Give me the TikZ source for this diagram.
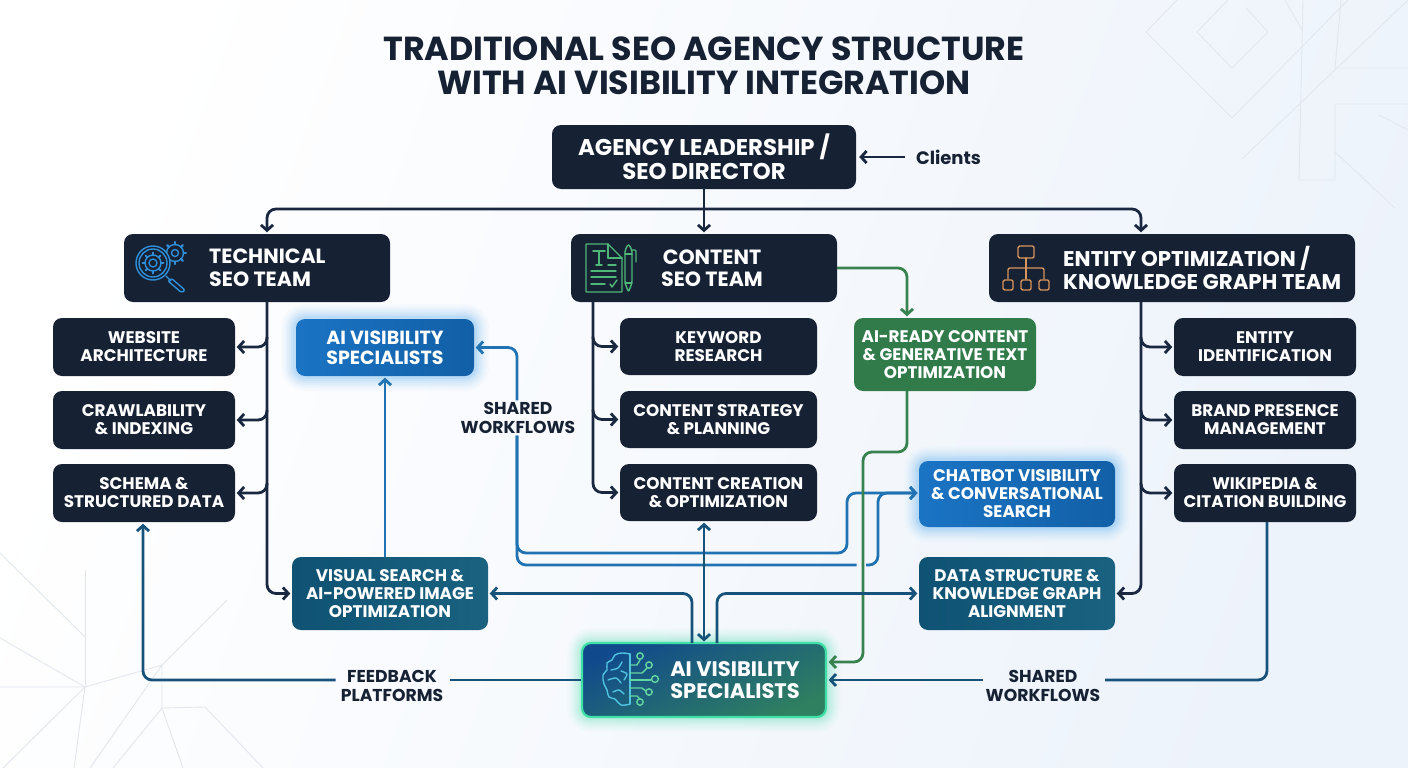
\documentclass[tikz,border=0pt]{standalone}
\usepackage{fontspec}
\setmainfont{Poppins}
\usetikzlibrary{arrows.meta,calc}
\definecolor{ink}{HTML}{162134}
\definecolor{dkline}{HTML}{1A2740}
\definecolor{bluel}{HTML}{2072B2}
\definecolor{greenl}{HTML}{37824F}
\definecolor{greenb}{HTML}{317B4B}
\definecolor{teall}{HTML}{17527A}
\definecolor{deco}{HTML}{E2E7EE}
\definecolor{icblue}{HTML}{2F8FD8}
\definecolor{icgreen}{HTML}{4FB878}
\definecolor{icorange}{HTML}{D8955A}
\definecolor{brainA}{HTML}{4FC3E0}
\definecolor{brainB}{HTML}{63D6A0}
\definecolor{tealA}{HTML}{0F5273}
\definecolor{tealB}{HTML}{1A6280}
\definecolor{aiv}{HTML}{1A74C4}
\definecolor{aivD}{HTML}{125FA6}
\definecolor{aivglow}{HTML}{3FA4F0}
\definecolor{botA}{HTML}{114A8C}
\definecolor{botB}{HTML}{2F8060}
\definecolor{botE}{HTML}{3FE0A8}
\definecolor{bgR}{HTML}{EDF3FB}
\tikzset{
  x=1pt,y=-1pt,
  box/.style={rounded corners=9pt,inner sep=0pt,align=center,text=white,font=\fontsize{16.8}{18}\selectfont\bfseries},
  darkbox/.style={box,fill=ink},
  bigtext/.style={inner sep=0pt,align=center,text=white,font=\fontsize{20.6}{22.5}\selectfont\bfseries},
  sub/.style={darkbox,minimum width=182pt,minimum height=58pt},
  mid/.style={darkbox,minimum width=197pt,minimum height=57pt},
  glowsoft/.style={
    preaction={draw=#1,line width=30pt,draw opacity=.025},
    preaction={draw=#1,line width=26pt,draw opacity=.03},
    preaction={draw=#1,line width=22pt,draw opacity=.04},
    preaction={draw=#1,line width=18pt,draw opacity=.05},
    preaction={draw=#1,line width=14pt,draw opacity=.06},
    preaction={draw=#1,line width=10pt,draw opacity=.08},
    preaction={draw=#1,line width=6pt,draw opacity=.1}},
  label/.style={inner sep=2pt,align=center,text=ink,font=\fontsize{17.2}{18.5}\selectfont\bfseries},
  conn/.style={line width=2.8pt,rounded corners=9pt,>={Straight Barb[length=5.5pt,width=12pt,line width=2.8pt]},shorten >=1.5pt},
  dk/.style={conn,draw=dkline},
  bl/.style={conn,draw=bluel},
  gr/.style={conn,draw=greenl},
  tl/.style={conn,draw=teall},
  decoline/.style={draw=deco,line width=.9pt},
  ic/.style={line width=1.4pt,line join=round,line cap=round},
}
\begin{document}
\begin{tikzpicture}
\useasboundingbox (0,0) rectangle (1408,768);
\shade[left color=white,right color=bgR,shading angle=70] (0,0) rectangle (1408,768);

% decorative lines
\draw[decoline] (1177,0) -- (1146,32) -- (1232,118) -- (1348,0);
\draw[decoline] (1228,0) -- (1197,32) -- (1232,68) -- (1268,32) -- (1246,8);
\draw[decoline] (1242,159) -- (1408,0);
\draw[decoline] (1303,0) -- (1299,180) -- (1335,180) -- (1335,104) -- (1408,104);
\draw[decoline] (1341,0) -- (1335,68) -- (1408,68);
\draw[decoline] (1285,0) -- (1302,30);
\draw[decoline] (1379,115) -- (1408,130);
\draw[decoline] (1335,152) -- (1395,208);
\draw[decoline] (0,553) -- (85,637);
\draw[decoline] (85,570) -- (85,687);
\draw[decoline] (0,638) -- (85,687) -- (0,687);
\draw[decoline] (3,768) -- (85,687) -- (74,768);
\draw[decoline] (85,687) -- (162,665) -- (227,600);
\draw[decoline] (90,768) -- (162,665) -- (162,708) -- (113,768);
\draw[decoline] (183,768) -- (162,708) -- (205,707) -- (263,768);

% title
\node[inner sep=0pt,align=center,text=ink,font=\fontsize{33.3}{34}\selectfont\bfseries] (title) at (704,66) {TRADITIONAL SEO AGENCY STRUCTURE\\WITH AI VISIBILITY INTEGRATION};

% boxes
\node[darkbox,font=\fontsize{22.8}{24}\selectfont\bfseries,minimum width=304pt,minimum height=64pt] (lead) at (704,157) {AGENCY LEADERSHIP /\\SEO DIRECTOR};
\node[inner sep=1pt,inner xsep=11pt,text=ink,font=\fontsize{18}{20}\selectfont\bfseries] (clients) at (948.5,157) {Clients};

\node[darkbox,minimum width=266pt,minimum height=68pt] (tech) at (257,268) {};
\node[darkbox,minimum width=266pt,minimum height=68pt] (content) at (704,268) {};
\node[darkbox,minimum width=366pt,minimum height=68pt] (entity) at (1172,268) {};
\node[bigtext,align=left,anchor=west] (techT) at (209,268) {TECHNICAL\\SEO TEAM};
\node[bigtext] (contT) at (712,268) {CONTENT\\SEO TEAM};
\node[bigtext,font=\fontsize{21.3}{22.5}\selectfont\bfseries,align=left,anchor=west] (entT) at (1063,268) {ENTITY OPTIMIZATION /\\KNOWLEDGE GRAPH TEAM};

\node[sub] (ws) at (144,347) {WEBSITE\\ARCHITECTURE};
\node[sub] (crawl) at (144,420) {CRAWLABILITY\\\& INDEXING};
\node[sub] (schema) at (144,493) {SCHEMA \&\\STRUCTURED DATA};

\node[box,shade,left color=aiv,right color=aivD,glowsoft=aivglow,font=\fontsize{19}{20}\selectfont\bfseries,minimum width=178pt,minimum height=57pt] (aivis) at (385,347.5) {AI VISIBILITY\\SPECIALISTS};

\node[mid] (kw) at (718.5,346.5) {KEYWORD\\RESEARCH};
\node[mid] (cs) at (718.5,419.5) {CONTENT STRATEGY\\\& PLANNING};
\node[mid] (cc) at (718.5,492.5) {CONTENT CREATION\\\& OPTIMIZATION};

\node[box,fill=greenb,minimum width=182pt,minimum height=73pt] (ready) at (945,354.5) {AI-READY CONTENT\\\& GENERATIVE TEXT\\OPTIMIZATION};

\node[box,shade,left color=aiv,right color=aivD,glowsoft=aivglow,minimum width=196pt,minimum height=66pt] (chat) at (1017,494) {CHATBOT VISIBILITY\\\& CONVERSATIONAL\\SEARCH};

\node[sub] (ent) at (1265,347) {ENTITY\\IDENTIFICATION};
\node[sub] (brand) at (1265,420) {BRAND PRESENCE\\MANAGEMENT};
\node[sub] (wiki) at (1265,493) {WIKIPEDIA \&\\CITATION BUILDING};

\node[box,shade,left color=tealA,right color=tealB,minimum width=196pt,minimum height=73pt] (visual) at (390,593.5) {VISUAL SEARCH \&\\AI-POWERED IMAGE\\OPTIMIZATION};
\node[box,shade,left color=tealA,right color=tealB,minimum width=196pt,minimum height=73pt] (data) at (1017,593.5) {DATA STRUCTURE \&\\KNOWLEDGE GRAPH\\ALIGNMENT};

\node[box,shade,left color=botA,right color=botB,shading angle=25,draw=botE,line width=2.2pt,glowsoft=botE,minimum width=244pt,minimum height=74pt] (bot) at (704,680) {};
\node[bigtext,font=\fontsize{21}{22.5}\selectfont\bfseries] (botT) at (735,680) {AI VISIBILITY\\SPECIALISTS};

% labels
\node[label] (sw1) at (518,418) {SHARED\\WORKFLOWS};
\node[label,inner xsep=5pt] (fb) at (392,686) {FEEDBACK\\PLATFORMS};
\node[label,inner xsep=3pt] (sw2) at (1043,686) {SHARED\\WORKFLOWS};

% named bends
\coordinate (bus) at (704,209);
\coordinate (tX) at (267,302);
\coordinate (cX) at (593,302);
\coordinate (eX) at (1141,302);

% leadership bus
\draw[dk,->] (lead.south) -- (content.north);
\draw[dk,->] (bus) -| (tech.north -| tX);
\draw[dk,->] (bus) -| (entity.north -| eX);
\draw[dk,<-,shorten >=0pt,shorten <=3pt] (lead.east) -- (clients.west);

% technical trunk
\draw[dk,->] (tech.south -| tX) |- (visual.west);
\draw[dk,->] ($(tX |- ws.east)+(0,-10)$) |- (ws.east);
\draw[dk,->] ($(tX |- crawl.east)+(0,-10)$) |- (crawl.east);
\draw[dk,->] ($(tX |- schema.east)+(0,-10)$) |- (schema.east);

% content trunk
\draw[dk,->] (content.south -| cX) |- (cc.west);
\draw[dk,->] ($(cX |- kw.west)+(0,-10)$) |- (kw.west);
\draw[dk,->] ($(cX |- cs.west)+(0,-10)$) |- (cs.west);

% entity trunk
\draw[dk,->] (entity.south -| eX) |- (data.east);
\draw[dk,->] ($(eX |- ent.west)+(0,-10)$) |- (ent.west);
\draw[dk,->] ($(eX |- brand.west)+(0,-10)$) |- (brand.west);
\draw[dk,->] ($(eX |- wiki.west)+(0,-10)$) |- (wiki.west);

% content to AI-ready, AI-ready to specialists
\coordinate (rX) at (907,391);
\coordinate (gX) at (863,452);
\coordinate (gY) at (830,662);
\draw[gr,->] (content.east) -| (ready.north -| rX);

% blue workflows
\coordinate (bA) at (517,553);
\coordinate (bB) at (847,493);
\coordinate (bC) at (517,565);
\coordinate (bD) at (878,493);
\coordinate (bE) at (858,565);
\coordinate (bF) at (866,565);
\coordinate (chatIn) at (919,493);
\draw[bl,->] (sw1.north -| bA) |- (aivis.east);
\draw[bl,->] (sw1.south -| bA) -- (bA) -- (bB |- bA) -- (bB) -- (chatIn);
\draw[bl] (sw1.south -| bC) -- (bC) -- (bE);
\draw[bl,->] (bF) -- (bF -| bD) -- (bD) -- (chatIn);
\draw[bl,->] (visual.north -| aivis.south) -- (aivis.south);

% green over blue
\draw[gr,->] (ready.south -| rX) -- (gX -| rX) -- (gX) -- (gX |- gY) -- (bot.east |- gY);

% bottom links
\coordinate (lT) at (692,643);
\coordinate (mT) at (704,643);
\coordinate (rT) at (717,643);
\draw[tl,<->,shorten <=1.5pt] (cc.south -| mT) -- (mT);
\draw[tl,->] (lT) |- (visual.east);
\draw[tl,->] (rT) |- (data.west);

\coordinate (fX) at (143,680);
\coordinate (wX) at (1267,680);
\draw[tl] (bot.west) -- (fb.east |- bot.west);
\draw[tl,->] (fb.west |- bot.west) -- (fX) -- (schema.south -| fX);
\draw[tl] (wiki.south -| wX) -- (wX) -- (sw2.east |- wX);
\draw[tl,->] (sw2.west |- wX) -- (bot.east);

% icon: magnifier and gears
\begin{scope}[ic,draw=icblue]
\draw (175,253) circle[radius=3.5pt];
\draw (175,253) circle[radius=8.5pt];
\foreach \a in {0,45,...,315} \draw[line width=2.4pt] ($(175,253)+(\a:8.5pt)$) -- ($(175,253)+(\a:11pt)$);
\draw[fill=ink] (153,263) circle[radius=17pt];
\draw (153,263) circle[radius=14pt];
\draw (153,263) circle[radius=4pt];
\draw (153,263) circle[radius=8pt];
\foreach \a in {0,45,...,315} \draw[line width=2pt] ($(153,263)+(\a:8pt)$) -- ($(153,263)+(\a:10.5pt)$);
\draw (166,276) -- (171,281);
\draw[rounded corners=2pt] (171,278) -- (185,290) -- (182,293) -- (168,281) -- cycle;
\end{scope}

% icon: document and pen
\begin{scope}[ic,draw=icgreen]
\draw (608,244) -- (586,244) -- (586,292) -- (622,292) -- (622,258) -- cycle;
\draw (608,244) -- (608,258) -- (622,258);
\draw[line width=1.6pt] (593,251) -- (605,251) (599,251) -- (599,265) (596,265) -- (602,265);
\foreach \yy/\xa/\xb in {258/608/616,265/608/616,271/591/616,277/591/616,284/591/605}
  \draw (\xa,\yy) -- (\xb,\yy);
\draw (610,284) -- (612,287) -- (617,280);
\draw[rounded corners=2pt] (625,250) -- (625,283) -- (628.5,292) -- (632,283) -- (632,250) -- (628.5,244) -- cycle;
\draw (625,254) -- (632,254) (625,283) -- (632,283);
\draw[rounded corners=1pt] (632,250) -- (636,250) -- (636,262);
\end{scope}

% icon: org chart
\begin{scope}[ic,draw=icorange]
\draw[rounded corners=1.5pt] (1018,246) rectangle (1034,258);
\draw (1026,258) -- (1026,279);
\draw[rounded corners=2pt] (1008,279) -- (1008,268) -- (1044,268) -- (1044,279);
\draw[rounded corners=1.5pt] (1003,280) rectangle (1013,290);
\draw[rounded corners=1.5pt] (1021,280) rectangle (1031,290);
\draw[rounded corners=1.5pt] (1039,280) rectangle (1049,290);
\end{scope}

% icon: brain with circuit
\begin{scope}[ic,draw=brainA]
\draw plot[smooth,tension=.7] coordinates {(630,654) (622,653) (615,655) (612,660) (607,663) (607,670) (603,675) (604,684) (607,690) (609,697) (615,699) (621,705) (630,704)};
\draw (630,654) -- (630,704);
\draw plot[smooth] coordinates {(611,670) (618,668) (622,662)};
\draw plot[smooth] coordinates {(608,680) (616,678) (621,683)};
\draw plot[smooth] coordinates {(613,692) (619,690) (624,694)};
\draw plot[smooth] coordinates {(621,671) (627,674) (624,680)};
\end{scope}
\begin{scope}[ic,draw=brainB]
\draw (630,665) -- (637,665) -- (640,660);
\draw (640,656) circle[radius=3.2pt];
\draw (630,673) -- (642,673) -- (647,668);
\draw (649,665) circle[radius=3.2pt];
\draw (630,680) -- (651,680);
\draw (655,679) circle[radius=3.4pt];
\draw (630,688) -- (642,688) -- (646,691);
\draw (649,692) circle[radius=3.2pt];
\draw (630,696) -- (637,696) -- (640,699);
\draw (640,702) circle[radius=3.2pt];
\end{scope}
\end{tikzpicture}
\end{document}
